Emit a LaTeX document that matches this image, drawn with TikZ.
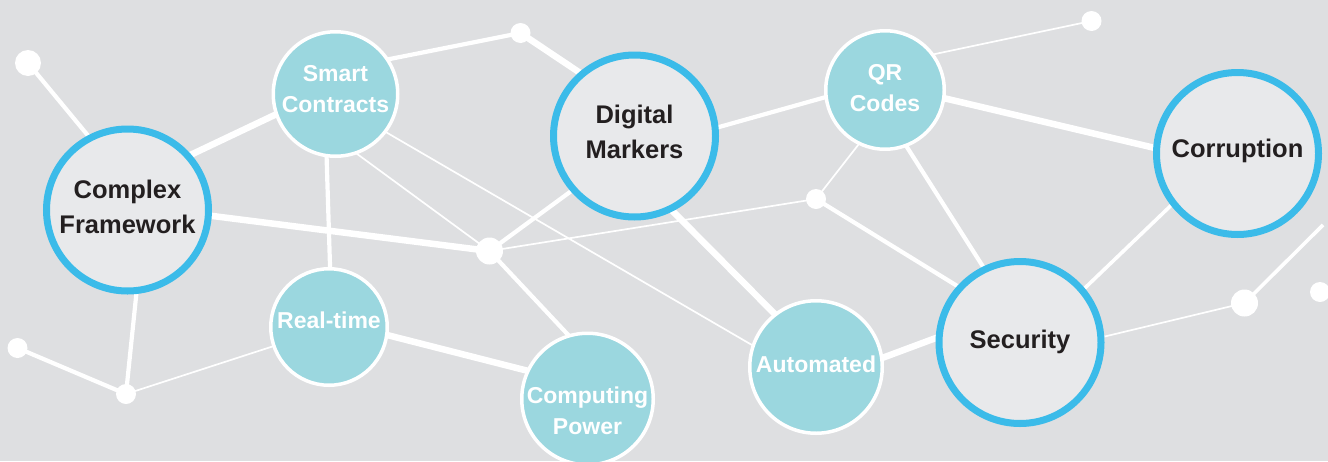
\documentclass[tikz,border=0pt]{standalone}
\usepackage{fontspec}
\setmainfont{Liberation Sans}
\pgfdeclarelayer{bg}
\pgfdeclarelayer{edges}
\pgfsetlayers{bg,edges,main}
\definecolor{bgc}{RGB}{222,223,225}
\definecolor{tealc}{RGB}{155,215,223}
\definecolor{ringc}{RGB}{59,187,233}
\definecolor{bigc}{RGB}{232,233,235}
\definecolor{txtc}{RGB}{35,31,32}
\tikzset{
  bignode/.style={circle, fill=bigc, draw=ringc, line width=7pt, minimum size=162pt, inner sep=0pt},
  tealnode/.style={circle, fill=tealc, draw=white, line width=3.5pt, inner sep=0pt},
  dotnode/.style={circle, fill=white, draw=none, inner sep=0pt},
  bigtext/.style={text=txtc, font=\bfseries\fontsize{25.5}{35}\selectfont, align=center, inner sep=0pt},
  tealtext/.style={text=white, font=\bfseries\fontsize{23}{31.5}\selectfont, align=center, inner sep=0pt},
  link/.style={draw=white, shorten <=-3pt, shorten >=-3pt},
  wthick/.style={link, line width=6.5pt},
  wmed/.style={link, line width=4.2pt},
  wthin/.style={link, line width=1.7pt}
}
\begin{document}
\begin{tikzpicture}[x=1pt, y=-1pt]
\useasboundingbox (0,0) rectangle (1328,461);
\begin{pgfonlayer}{bg}
  \fill[bgc] (0,0) rectangle (1328,461);
\end{pgfonlayer}

% main circles
\node[bignode] (cf) at (127.5,210) {};
\node[bignode] (dm) at (634.5,136) {};
\node[bignode] (co) at (1237.5,153.5) {};
\node[bignode] (sec) at (1020,342.5) {};
\node[tealnode, minimum size=124.5pt] (sc) at (335.5,94) {};
\node[tealnode, minimum size=116.5pt] (rt) at (329,327) {};
\node[tealnode, minimum size=118.5pt] (qr) at (885,90) {};
\node[tealnode, minimum size=131.5pt] (cp) at (587.5,399) {};
\node[tealnode, minimum size=132.5pt] (au) at (816,367) {};

% dots
\node[dotnode, minimum size=26pt] (d1) at (28,63) {};
\node[dotnode, minimum size=20pt] (d2) at (17.5,348) {};
\node[dotnode, minimum size=20pt] (d3) at (126,394) {};
\node[dotnode, minimum size=20pt] (d4) at (520.5,33) {};
\node[dotnode, minimum size=27pt] (hub) at (489.5,251) {};
\node[dotnode, minimum size=20pt] (d6) at (816,199) {};
\node[dotnode, minimum size=20pt] (d7) at (1091.5,21) {};
\node[dotnode, minimum size=27pt] (d8) at (1244.5,303) {};
\node[dotnode, minimum size=20pt] (d9) at (1320,292) {};
\coordinate (tail) at (1323,225);

% labels
\node[bigtext] (cf-t) at ([yshift=3.3pt]cf.center) {Complex\\Framework};
\node[bigtext] (dm-t) at ([yshift=4pt]dm.center) {Digital\\Markers};
\node[bigtext, text depth=0pt] (co-t) at ([yshift=5pt]co.center) {Corruption};
\node[bigtext, text depth=0pt] (sec-t) at ([yshift=3.5pt]sec.center) {Security};
\node[tealtext] (sc-t) at ([yshift=5pt]sc.center) {Smart\\Contracts};
\node[tealtext, text depth=0pt] (rt-t) at ([yshift=6.5pt]rt.center) {Real-time};
\node[tealtext] (qr-t) at ([yshift=2pt]qr.center) {QR\\Codes};
\node[tealtext] (cp-t) at ([yshift=-12pt]cp.center) {Computing\\Power};
\node[tealtext, text depth=0pt] (au-t) at ([yshift=3pt]au.center) {Automated};

% connectors
\begin{pgfonlayer}{edges}
  \draw[wmed] (d1) -- (cf.118);
  \draw[wthick] (cf.41) -- (sc.199);
  \draw[wthick] (cf.-4) -- (hub);
  \draw[wmed] (cf.-84) -- (d3);
  \draw[wmed] (d2) -- (d3);
  \draw[wthin] (d3) -- (rt.199);
  \draw[wmed] (sc.-98) -- (rt.89);
  \draw[wmed] (sc.33) -- (d4);
  \draw[wthin] (sc.-37) -- (au.161);
  \draw[wthin] (sc.-70) -- (hub);
  \draw[wthick] (rt.-8) -- (cp.155);
  \draw[wthick] (d4) -- (dm.131);
  \draw[wmed] (hub) -- (dm.221);
  \draw[wmed] (hub) -- (cp.107);
  \draw[wthin] (hub) -- (d6);
  \draw[wthick] (dm.-63) -- (au.128);
  \draw[wmed] (dm.6) -- (qr.187);
  \draw[wthin] (qr.244) -- (d6);
  \draw[wmed] (d6) -- (sec.138);
  \draw[wthick] (au.8) -- (sec.177);
  \draw[wthin] (qr.36) -- (d7);
  \draw[wthick] (qr.-8) -- (co.176);
  \draw[wmed] (qr.-69) -- (sec.116);
  \draw[wmed, line width=3.6pt] (sec.40) -- (co.218);
  \draw[wthin] (sec.4) -- (d8);
  \draw[wmed, line width=3.6pt, shorten >=0pt] (d8) -- (tail);
\end{pgfonlayer}
\end{tikzpicture}
\end{document}
